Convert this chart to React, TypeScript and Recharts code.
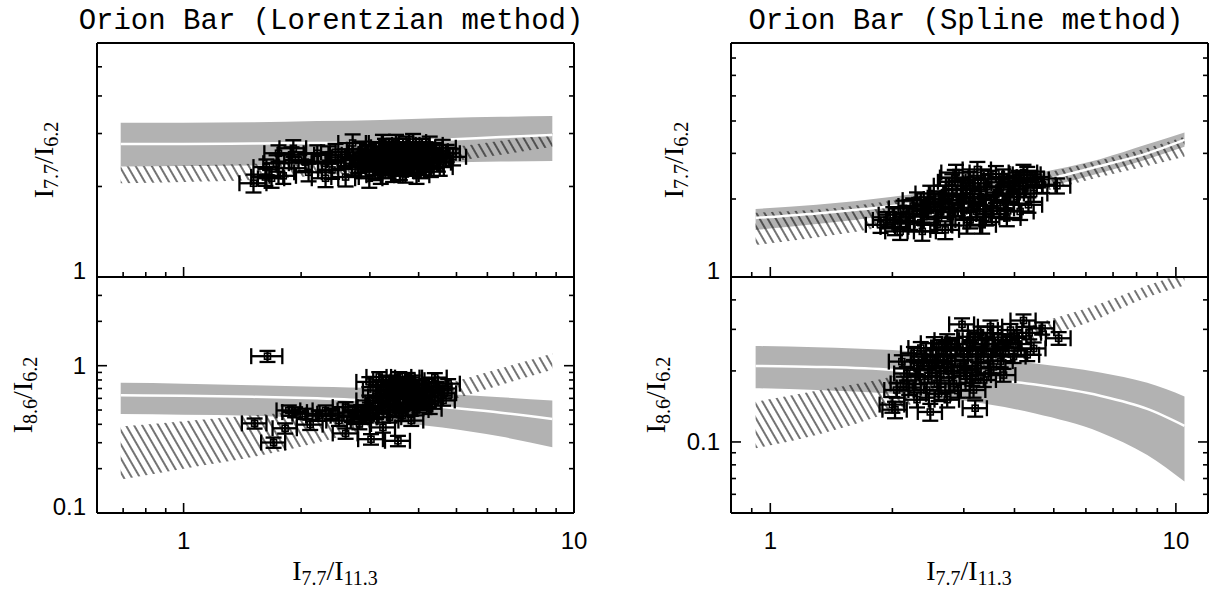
import React from "react";
import { ComposedChart, Area, Line, Scatter, ErrorBar, XAxis, YAxis } from "recharts";

const leftBandX = [0.69, 1.0, 1.5, 2.2, 3.2, 4.6, 6.5, 8.8];
const rightBandX = [0.92, 1.3, 2.0, 3.0, 4.5, 6.5, 8.5, 10.5];

// top-left: I7.7/I6.2, Lorentzian
const tlGrayHi = [3.26, 3.26, 3.27, 3.3, 3.33, 3.38, 3.41, 3.43];
const tlGrayLo = [2.33, 2.34, 2.35, 2.37, 2.38, 2.4, 2.42, 2.43];
const tlWhite = [2.77, 2.77, 2.78, 2.79, 2.81, 2.86, 2.92, 2.97];
const tlHatchHi = [2.33, 2.35, 2.38, 2.45, 2.55, 2.68, 2.84, 3.01];
const tlHatchLo = [2.05, 2.07, 2.1, 2.17, 2.27, 2.4, 2.55, 2.71];

// bottom-left: I8.6/I6.2, Lorentzian
const blGrayHi = [0.765, 0.755, 0.737, 0.72, 0.7, 0.645, 0.61, 0.58];
const blGrayLo = [0.47, 0.465, 0.458, 0.44, 0.42, 0.38, 0.33, 0.28];
const blWhite = [0.63, 0.625, 0.615, 0.6, 0.575, 0.525, 0.48, 0.435];
const blHatchHi = [0.386, 0.42, 0.46, 0.5, 0.58, 0.74, 0.96, 1.21];
const blHatchLo = [0.169, 0.2, 0.24, 0.3, 0.4, 0.56, 0.74, 0.94];

// top-right: I7.7/I6.2, Spline
const trGrayHi = [1.83, 1.9, 2.04, 2.24, 2.51, 2.85, 3.25, 3.61];
const trGrayLo = [1.52, 1.6, 1.735, 1.92, 2.17, 2.52, 2.85, 3.18];
const trWhite = [1.69, 1.76, 1.88, 2.05, 2.32, 2.68, 3.0, 3.38];
const trHatchHi = [1.77, 1.82, 1.97, 2.17, 2.47, 2.82, 3.15, 3.48];
const trHatchLo = [1.33, 1.42, 1.58, 1.8, 2.1, 2.43, 2.68, 2.91];

// bottom-right: I8.6/I6.2, Spline
const brGrayHi = [0.255, 0.252, 0.245, 0.232, 0.215, 0.197, 0.178, 0.156];
const brGrayLo = [0.169, 0.166, 0.16, 0.15, 0.132, 0.11, 0.088, 0.068];
const brWhite = [0.21, 0.208, 0.202, 0.188, 0.175, 0.157, 0.138, 0.117];
const brHatchHi = [0.148, 0.165, 0.19, 0.245, 0.315, 0.385, 0.46, 0.52];
const brHatchLo = [0.094, 0.107, 0.135, 0.18, 0.265, 0.335, 0.41, 0.46];

// measured points: [x, y, xErr, yErr]
type Pt = [number, number, number, number];

const tlPoints: Pt[] = [
  [1.51, 2.05, 0.12, 0.14], [1.62, 2.15, 0.13, 0.14], [1.68, 2.13, 0.13, 0.15],
  [1.8, 2.17, 0.14, 0.13], [1.63, 2.32, 0.12, 0.14], [1.73, 2.39, 0.13, 0.15],
  [1.75, 2.58, 0.14, 0.16], [1.91, 2.68, 0.15, 0.17], [1.89, 2.55, 0.15, 0.15],
  [1.97, 2.45, 0.16, 0.15], [2.05, 2.41, 0.16, 0.16], [2.09, 2.23, 0.17, 0.15],
  [2.2, 2.58, 0.17, 0.16], [2.31, 2.39, 0.18, 0.16], [2.35, 2.55, 0.19, 0.17],
  [2.4, 2.27, 0.19, 0.15], [2.31, 2.13, 0.18, 0.14], [2.53, 2.45, 0.2, 0.16],
  [2.6, 2.15, 0.21, 0.15], [2.71, 2.79, 0.22, 0.19], [2.81, 2.51, 0.22, 0.16],
  [2.93, 2.32, 0.23, 0.16], [2.99, 2.13, 0.24, 0.15], [3.11, 2.64, 0.25, 0.17],
  [3.24, 2.79, 0.26, 0.18], [3.3, 2.41, 0.26, 0.16], [3.44, 2.22, 0.27, 0.15],
  [3.5, 2.79, 0.28, 0.18], [3.64, 2.58, 0.29, 0.17], [3.8, 2.32, 0.3, 0.15],
  [3.87, 2.81, 0.31, 0.18], [3.95, 2.18, 0.31, 0.14], [4.1, 2.64, 0.33, 0.17],
  [4.19, 2.39, 0.33, 0.16], [4.27, 2.75, 0.34, 0.18], [4.44, 2.49, 0.35, 0.16],
  [4.53, 2.32, 0.36, 0.15], [4.72, 2.58, 0.38, 0.17], [4.61, 2.69, 0.37, 0.17],
  [4.9, 2.51, 0.39, 0.16], [3.24, 2.45, 0.26, 0.16], [3.44, 2.55, 0.27, 0.17],
  [3.75, 2.45, 0.3, 0.16], [3.1, 2.25, 0.25, 0.15], [3.6, 2.32, 0.29, 0.15],
  [4.0, 2.45, 0.32, 0.16], [4.3, 2.3, 0.34, 0.15], [3.0, 2.4, 0.24, 0.16],
  [3.35, 2.65, 0.27, 0.17], [3.9, 2.6, 0.31, 0.17], [2.85, 2.65, 0.23, 0.17],
  [3.5, 2.38, 0.28, 0.16], [4.15, 2.55, 0.33, 0.17], [2.7, 2.33, 0.22, 0.15],
  [2.6, 2.5, 0.21, 0.16], [2.45, 2.6, 0.2, 0.17], [3.2, 2.18, 0.26, 0.14],
  [3.7, 2.2, 0.3, 0.14], [4.4, 2.62, 0.35, 0.17], [3.05, 2.55, 0.24, 0.17],
  [3.65, 2.7, 0.29, 0.18], [4.05, 2.28, 0.32, 0.15], [2.9, 2.45, 0.23, 0.16],
  [3.4, 2.35, 0.27, 0.15], [3.15, 2.5, 0.25, 0.16], [3.3, 2.58, 0.26, 0.17],
  [3.45, 2.7, 0.28, 0.18], [3.55, 2.5, 0.28, 0.16], [3.62, 2.4, 0.29, 0.16],
  [3.78, 2.62, 0.3, 0.17], [3.85, 2.38, 0.31, 0.16], [3.92, 2.5, 0.31, 0.16],
  [4.08, 2.7, 0.33, 0.18], [4.2, 2.48, 0.34, 0.16], [4.35, 2.45, 0.35, 0.16],
  [4.25, 2.6, 0.34, 0.17], [3.35, 2.28, 0.27, 0.15], [3.55, 2.62, 0.28, 0.17],
  [3.72, 2.75, 0.3, 0.18], [4.0, 2.35, 0.32, 0.15], [3.2, 2.35, 0.26, 0.15],
  [2.95, 2.58, 0.24, 0.17], [3.48, 2.45, 0.28, 0.16], [3.82, 2.53, 0.31, 0.16],
  [4.12, 2.4, 0.33, 0.16], [3.28, 2.7, 0.26, 0.18], [3.68, 2.52, 0.29, 0.16],
  [2.8, 2.38, 0.22, 0.16], [4.48, 2.4, 0.36, 0.16], [3.58, 2.25, 0.29, 0.15],
];

const blPoints: Pt[] = [
  [1.64, 1.16, 0.15, 0.1], [1.52, 0.406, 0.11, 0.032], [1.7, 0.301, 0.12, 0.024],
  [1.82, 0.376, 0.13, 0.03], [2.11, 0.398, 0.16, 0.032], [2.6, 0.347, 0.19, 0.028],
  [3.02, 0.317, 0.22, 0.026], [3.54, 0.309, 0.26, 0.025], [3.83, 0.424, 0.28, 0.034],
  [4.4, 0.83, 0.32, 0.06], [4.76, 0.755, 0.34, 0.055], [4.27, 0.51, 0.31, 0.04],
  [1.86, 0.497, 0.13, 0.04], [1.93, 0.484, 0.14, 0.038], [2.05, 0.472, 0.15, 0.038],
  [2.22, 0.458, 0.16, 0.036], [2.4, 0.472, 0.17, 0.038], [2.5, 0.424, 0.18, 0.034],
  [2.76, 0.497, 0.2, 0.04], [2.82, 0.402, 0.2, 0.032], [2.99, 0.581, 0.22, 0.046],
  [3.11, 0.472, 0.23, 0.038], [3.24, 0.381, 0.24, 0.03], [2.99, 0.776, 0.22, 0.06],
  [3.3, 0.797, 0.24, 0.06], [3.57, 0.839, 0.26, 0.065], [3.71, 0.717, 0.27, 0.055],
  [3.44, 0.645, 0.25, 0.05], [3.86, 0.613, 0.28, 0.048], [4.02, 0.68, 0.29, 0.052],
  [4.19, 0.613, 0.3, 0.048], [4.53, 0.68, 0.33, 0.052], [4.62, 0.581, 0.33, 0.046],
  [3.24, 0.523, 0.24, 0.042], [3.5, 0.497, 0.25, 0.04], [3.71, 0.551, 0.27, 0.044],
  [2.93, 0.447, 0.21, 0.036], [3.37, 0.447, 0.24, 0.036], [3.64, 0.458, 0.26, 0.036],
  [2.6, 0.523, 0.19, 0.042], [2.31, 0.497, 0.17, 0.04], [3.11, 0.68, 0.23, 0.052],
  [4.02, 0.523, 0.29, 0.042], [3.86, 0.797, 0.28, 0.06], [3.17, 0.839, 0.23, 0.065],
  [4.19, 0.755, 0.3, 0.058], [3.4, 0.72, 0.25, 0.055], [3.6, 0.65, 0.26, 0.05],
  [3.9, 0.7, 0.28, 0.054], [3.3, 0.58, 0.24, 0.046], [3.7, 0.6, 0.27, 0.048],
  [4.1, 0.58, 0.3, 0.046], [3.5, 0.76, 0.25, 0.058], [3.0, 0.52, 0.22, 0.042],
  [2.7, 0.45, 0.2, 0.036], [3.95, 0.5, 0.29, 0.04], [3.2, 0.62, 0.23, 0.048],
  [3.35, 0.68, 0.24, 0.052], [3.5, 0.6, 0.25, 0.046], [3.65, 0.78, 0.26, 0.06],
  [3.8, 0.66, 0.28, 0.05], [3.95, 0.74, 0.29, 0.056], [4.05, 0.62, 0.29, 0.048],
  [4.3, 0.66, 0.31, 0.05], [4.45, 0.72, 0.32, 0.055], [3.45, 0.55, 0.25, 0.044],
  [3.6, 0.52, 0.26, 0.042], [3.25, 0.74, 0.24, 0.056], [3.75, 0.83, 0.27, 0.062],
  [3.15, 0.56, 0.23, 0.044], [2.85, 0.5, 0.21, 0.04], [2.95, 0.46, 0.21, 0.037],
  [3.55, 0.7, 0.26, 0.054], [4.25, 0.57, 0.31, 0.045], [3.85, 0.56, 0.28, 0.045],
  [4.65, 0.65, 0.34, 0.05],
];

const trPoints: Pt[] = [
  [2.87, 2.53, 0.23, 0.18], [3.24, 2.6, 0.26, 0.18], [2.81, 2.33, 0.22, 0.16],
  [3.75, 2.43, 0.3, 0.17], [4.21, 2.53, 0.34, 0.18], [4.38, 2.4, 0.35, 0.17],
  [5.09, 2.25, 0.4, 0.15], [4.68, 2.27, 0.37, 0.16], [4.33, 1.9, 0.35, 0.13],
  [4.13, 1.79, 0.33, 0.13], [3.83, 1.69, 0.31, 0.12], [3.33, 1.59, 0.27, 0.12],
  [2.7, 1.52, 0.22, 0.12], [2.37, 1.5, 0.19, 0.12], [2.03, 1.56, 0.16, 0.11],
  [2.01, 1.74, 0.16, 0.12], [2.13, 1.84, 0.17, 0.13], [2.3, 1.98, 0.18, 0.14],
  [2.48, 2.1, 0.2, 0.15], [2.67, 2.1, 0.21, 0.15], [3.05, 2.17, 0.24, 0.15],
  [2.94, 1.93, 0.24, 0.14], [2.63, 1.82, 0.21, 0.13], [2.39, 1.71, 0.19, 0.12],
  [2.21, 1.64, 0.18, 0.12], [3.23, 1.79, 0.26, 0.13], [3.55, 1.98, 0.28, 0.14],
  [3.91, 2.1, 0.31, 0.15], [3.42, 2.23, 0.27, 0.16], [3.98, 2.3, 0.32, 0.16],
  [3.11, 2.37, 0.25, 0.17], [2.78, 1.71, 0.22, 0.12], [3.11, 1.66, 0.25, 0.12],
  [3.69, 1.84, 0.3, 0.13], [1.94, 1.66, 0.15, 0.12], [1.87, 1.59, 0.15, 0.11],
  [2.43, 1.9, 0.19, 0.13], [2.09, 1.5, 0.17, 0.11], [2.58, 1.59, 0.21, 0.11],
  [3.3, 2.04, 0.26, 0.14], [2.88, 2.04, 0.23, 0.14], [4.46, 2.1, 0.36, 0.15],
  [4.06, 2.04, 0.32, 0.14], [4.3, 2.49, 0.34, 0.17], [2.55, 1.95, 0.2, 0.14],
  [3.5, 1.75, 0.28, 0.12], [2.2, 1.75, 0.18, 0.12], [3.0, 1.8, 0.24, 0.13],
  [3.8, 1.95, 0.3, 0.14], [2.75, 2.25, 0.22, 0.16], [2.45, 1.8, 0.2, 0.13],
  [2.6, 1.7, 0.21, 0.12], [2.75, 1.92, 0.22, 0.14], [2.9, 1.85, 0.23, 0.13],
  [3.15, 1.95, 0.25, 0.14], [3.35, 1.88, 0.27, 0.13], [3.6, 2.08, 0.29, 0.15],
  [3.7, 2.22, 0.3, 0.16], [3.95, 2.18, 0.32, 0.15], [4.2, 2.25, 0.34, 0.16],
  [4.1, 2.4, 0.33, 0.17], [3.45, 2.4, 0.28, 0.17], [3.25, 2.3, 0.26, 0.16],
  [2.95, 2.25, 0.24, 0.16], [2.6, 2.0, 0.21, 0.14], [2.35, 1.62, 0.19, 0.12],
  [2.25, 1.88, 0.18, 0.13], [3.05, 1.58, 0.24, 0.11], [3.4, 1.7, 0.27, 0.12],
  [3.85, 1.8, 0.31, 0.13], [4.5, 2.38, 0.36, 0.17], [2.85, 2.42, 0.23, 0.17],
  [3.6, 2.5, 0.29, 0.18], [2.1, 1.65, 0.17, 0.12],
];

const brPoints: Pt[] = [
  [2.97, 0.315, 0.21, 0.019], [4.21, 0.327, 0.3, 0.02], [4.68, 0.303, 0.33, 0.018],
  [5.14, 0.275, 0.36, 0.017], [4.46, 0.249, 0.31, 0.015], [4.3, 0.234, 0.3, 0.014],
  [3.76, 0.192, 0.26, 0.012], [3.2, 0.139, 0.22, 0.011], [2.48, 0.134, 0.17, 0.011],
  [2.03, 0.137, 0.14, 0.011], [2.0, 0.144, 0.14, 0.011], [2.11, 0.219, 0.15, 0.014],
  [2.26, 0.2375, 0.16, 0.015], [2.53, 0.262, 0.18, 0.016], [2.73, 0.27, 0.19, 0.016],
  [3.11, 0.279, 0.22, 0.017], [3.49, 0.289, 0.24, 0.018], [3.83, 0.27, 0.27, 0.016],
  [3.3, 0.23, 0.23, 0.014], [2.94, 0.208, 0.21, 0.013], [2.63, 0.195, 0.18, 0.013],
  [2.34, 0.189, 0.16, 0.013], [2.13, 0.177, 0.15, 0.012], [2.05, 0.166, 0.14, 0.012],
  [2.43, 0.166, 0.17, 0.012], [2.83, 0.177, 0.2, 0.012], [3.36, 0.183, 0.24, 0.012],
  [3.55, 0.208, 0.25, 0.013], [3.98, 0.23, 0.28, 0.014], [2.94, 0.245, 0.21, 0.015],
  [2.67, 0.23, 0.19, 0.014], [2.39, 0.216, 0.17, 0.014], [3.17, 0.166, 0.22, 0.012],
  [2.73, 0.151, 0.19, 0.011], [2.3, 0.151, 0.16, 0.011], [3.49, 0.308, 0.24, 0.019],
  [3.91, 0.298, 0.27, 0.018], [2.17, 0.195, 0.15, 0.013], [2.58, 0.177, 0.18, 0.012],
  [3.62, 0.245, 0.25, 0.015], [3.1, 0.25, 0.22, 0.015], [2.8, 0.22, 0.2, 0.013],
  [3.4, 0.26, 0.24, 0.016], [2.5, 0.21, 0.18, 0.013], [3.7, 0.22, 0.26, 0.013],
  [3.05, 0.19, 0.21, 0.012], [2.6, 0.245, 0.18, 0.015], [3.25, 0.205, 0.23, 0.013],
  [2.4, 0.23, 0.17, 0.014], [2.55, 0.22, 0.18, 0.014], [2.7, 0.25, 0.19, 0.015],
  [2.85, 0.26, 0.2, 0.016], [3.0, 0.235, 0.21, 0.014], [3.2, 0.27, 0.22, 0.016],
  [3.35, 0.245, 0.24, 0.015], [3.5, 0.235, 0.25, 0.014], [3.65, 0.27, 0.26, 0.016],
  [3.8, 0.25, 0.27, 0.015], [4.0, 0.28, 0.28, 0.017], [4.1, 0.26, 0.29, 0.016],
  [2.3, 0.205, 0.16, 0.013], [2.45, 0.19, 0.17, 0.012], [2.75, 0.2, 0.19, 0.013],
  [3.0, 0.21, 0.21, 0.013], [3.15, 0.185, 0.22, 0.012], [3.45, 0.195, 0.24, 0.012],
  [2.2, 0.17, 0.15, 0.012], [2.6, 0.16, 0.18, 0.011], [2.9, 0.165, 0.2, 0.011],
  [3.3, 0.29, 0.23, 0.018], [4.35, 0.29, 0.3, 0.018], [2.35, 0.25, 0.16, 0.015],
];

// axis ticks
const leftXTicks = [0.7, 0.8, 0.9, 1, 2, 3, 4, 5, 6, 7, 8, 9, 10];
const rightXTicks = [0.9, 1, 2, 3, 4, 5, 6, 7, 8, 9, 10];
const tlYTicks = [1, 2, 3, 4, 5];
const blYTicks = [0.1, 0.2, 0.3, 0.4, 0.5, 0.6, 0.7, 0.8, 0.9, 1, 2, 3];
const trYTicks = [1, 2, 3, 4, 5, 6, 7];
const brYTicks = [0.06, 0.07, 0.08, 0.09, 0.1, 0.2, 0.3, 0.4];

const PLOT_W = 477;
const ML = 62;
const MR = 24;
const MT = 8;
const MB = 46;

const isMajor = (v: number) => {
  const l = Math.log10(v);
  return Math.abs(l - Math.round(l)) < 1e-6;
};

const tickFont = { fontFamily: "Liberation Sans", fontSize: 24, fill: "#000" };

function makeTick(side: string, labels: number[], minVal: number) {
  return (props: any) => {
    const { x, y, payload } = props;
    const v = payload.value;
    const len = isMajor(v) ? 10 : 5;
    let x2 = x;
    let y2 = y;
    if (side === "bottom") y2 = y - len;
    else if (side === "top") y2 = y + len;
    else if (side === "left") x2 = x + len;
    else x2 = x - len;
    const show = labels.includes(v);
    return (
      <g>
        <line x1={x} y1={y} x2={x2} y2={y2} stroke="#000" strokeWidth={1.6} />
        {show && side === "bottom" && (
          <text x={x} y={y + 36} textAnchor="middle" {...tickFont}>
            {String(v)}
          </text>
        )}
        {show && side === "left" && (
          <text x={x - 11} y={v === minVal ? y + 2 : y + 8} textAnchor="end" {...tickFont}>
            {String(v)}
          </text>
        )}
      </g>
    );
  };
}

const Marker = (p: any) => (
  <g>
    <rect x={p.cx - 3} y={p.cy - 3} width={6} height={6} fill="none" stroke="#000" strokeWidth={1.6} />
    <circle cx={p.cx} cy={p.cy} r={1.5} fill="#000" />
  </g>
);

interface PanelProps {
  id: string;
  left: number;
  top: number;
  plotH: number;
  xDomain: [number, number];
  yDomain: [number, number];
  xTicks: number[];
  yTicks: number[];
  xLabels: number[];
  yLabels: number[];
  bandX: number[];
  grayLo: number[];
  grayHi: number[];
  white: number[];
  hatchLo: number[];
  hatchHi: number[];
  points: Pt[];
}

function Panel(p: PanelProps) {
  const W = ML + 1 + PLOT_W + 1 + MR;
  const H = MT + 1 + p.plotH + 1 + MB;
  const rows = p.bandX.map((x, i) => ({
    x,
    gray: [p.grayLo[i], p.grayHi[i]],
    white: p.white[i],
    hatch: [p.hatchLo[i], p.hatchHi[i]],
  }));
  const pts = p.points.map(([x, y, ex, ey]) => ({ x, y, ex, ey }));
  const axisLine = { stroke: "#000", strokeWidth: 2 };
  const yMin = p.yDomain[0];
  return (
    <div style={{ position: "absolute", left: p.left - ML - 1, top: p.top - MT - 1 }}>
      <ComposedChart width={W} height={H} data={rows} margin={{ top: MT, right: MR, bottom: MB, left: ML }}>
        <defs>
          <pattern
            id={`hatch-${p.id}`}
            width={7}
            height={7}
            patternUnits="userSpaceOnUse"
            patternTransform="rotate(-30)"
          >
            <line x1={1} y1={0} x2={1} y2={7} stroke="#000" strokeWidth={1.1} />
          </pattern>
        </defs>
        <XAxis
          xAxisId="b"
          dataKey="x"
          type="number"
          scale="log"
          domain={p.xDomain}
          allowDataOverflow
          ticks={p.xTicks}
          interval={0}
          height={1}
          tickSize={0}
          tickMargin={0}
          tickLine={false}
          axisLine={axisLine}
          tick={makeTick("bottom", p.xLabels, 0)}
        />
        <XAxis
          xAxisId="t"
          orientation="top"
          type="number"
          scale="log"
          domain={p.xDomain}
          allowDataOverflow
          ticks={p.xTicks}
          interval={0}
          height={1}
          tickSize={0}
          tickMargin={0}
          tickLine={false}
          axisLine={axisLine}
          tick={makeTick("top", [], 0)}
        />
        <YAxis
          yAxisId="l"
          type="number"
          scale="log"
          domain={p.yDomain}
          allowDataOverflow
          ticks={p.yTicks}
          interval={0}
          width={1}
          tickSize={0}
          tickMargin={0}
          tickLine={false}
          axisLine={axisLine}
          tick={makeTick("left", p.yLabels, yMin)}
        />
        <YAxis
          yAxisId="r"
          orientation="right"
          type="number"
          scale="log"
          domain={p.yDomain}
          allowDataOverflow
          ticks={p.yTicks}
          interval={0}
          width={1}
          tickSize={0}
          tickMargin={0}
          tickLine={false}
          axisLine={axisLine}
          tick={makeTick("right", [], yMin)}
        />
        <Area
          xAxisId="b"
          yAxisId="l"
          dataKey="gray"
          type="monotone"
          stroke="none"
          fill="#b2b2b2"
          fillOpacity={1}
          dot={false}
          activeDot={false}
          isAnimationActive={false}
        />
        <Line
          xAxisId="b"
          yAxisId="l"
          dataKey="white"
          type="monotone"
          stroke="#fff"
          strokeWidth={2.5}
          dot={false}
          activeDot={false}
          isAnimationActive={false}
        />
        <Area
          xAxisId="b"
          yAxisId="l"
          dataKey="hatch"
          type="monotone"
          stroke="none"
          fill={`url(#hatch-${p.id})`}
          fillOpacity={1}
          dot={false}
          activeDot={false}
          isAnimationActive={false}
        />
        <Scatter
          xAxisId="b"
          yAxisId="l"
          data={pts}
          dataKey="y"
          shape={Marker}
          isAnimationActive={false}
        >
          <ErrorBar dataKey="ex" direction="x" width={8} stroke="#000" strokeWidth={2.3} />
          <ErrorBar dataKey="ey" direction="y" width={8} stroke="#000" strokeWidth={2.3} />
        </Scatter>
      </ComposedChart>
    </div>
  );
}

const serif = { fontFamily: "Liberation Serif", fontSize: 28, fill: "#000" };

function Ratio({ x, y, a, b, rotate }: { x: number; y: number; a: string; b: string; rotate?: boolean }) {
  return (
    <text
      x={x}
      y={rotate ? y + 9 : y}
      textAnchor="middle"
      transform={rotate ? `rotate(-90 ${x} ${y})` : undefined}
      {...serif}
    >
      I
      <tspan fontSize={20} dy={5}>{a}</tspan>
      <tspan dy={-5}>/I</tspan>
      <tspan fontSize={20} dy={5}>{b}</tspan>
    </text>
  );
}

export default function App() {
  return (
    <div
      style={{
        position: "absolute",
        left: 0,
        top: 0,
        width: 1209,
        height: 594,
        overflow: "hidden",
        background: "#fff",
      }}
    >
      <Panel
        id="tl"
        left={97}
        top={43}
        plotH={234}
        xDomain={[0.6, 10]}
        yDomain={[1, 6]}
        xTicks={leftXTicks}
        yTicks={tlYTicks}
        xLabels={[]}
        yLabels={[1]}
        bandX={leftBandX}
        grayLo={tlGrayLo}
        grayHi={tlGrayHi}
        white={tlWhite}
        hatchLo={tlHatchLo}
        hatchHi={tlHatchHi}
        points={tlPoints}
      />
      <Panel
        id="bl"
        left={97}
        top={277}
        plotH={236}
        xDomain={[0.6, 10]}
        yDomain={[0.1, 4]}
        xTicks={leftXTicks}
        yTicks={blYTicks}
        xLabels={[1, 10]}
        yLabels={[0.1, 1]}
        bandX={leftBandX}
        grayLo={blGrayLo}
        grayHi={blGrayHi}
        white={blWhite}
        hatchLo={blHatchLo}
        hatchHi={blHatchHi}
        points={blPoints}
      />
      <Panel
        id="tr"
        left={731}
        top={43}
        plotH={234}
        xDomain={[0.8, 12]}
        yDomain={[1, 8]}
        xTicks={rightXTicks}
        yTicks={trYTicks}
        xLabels={[]}
        yLabels={[1]}
        bandX={rightBandX}
        grayLo={trGrayLo}
        grayHi={trGrayHi}
        white={trWhite}
        hatchLo={trHatchLo}
        hatchHi={trHatchHi}
        points={trPoints}
      />
      <Panel
        id="br"
        left={731}
        top={277}
        plotH={236}
        xDomain={[0.8, 12]}
        yDomain={[0.05, 0.5]}
        xTicks={rightXTicks}
        yTicks={brYTicks}
        xLabels={[1, 10]}
        yLabels={[0.1]}
        bandX={rightBandX}
        grayLo={brGrayLo}
        grayHi={brGrayHi}
        white={brWhite}
        hatchLo={brHatchLo}
        hatchHi={brHatchHi}
        points={brPoints}
      />
      <svg width={1209} height={594} style={{ position: "absolute", left: 0, top: 0 }}>
        <text x={331} y={29} textAnchor="middle" fontFamily="Liberation Mono" fontSize={29} fill="#000">
          Orion Bar (Lorentzian method)
        </text>
        <text x={966} y={29} textAnchor="middle" fontFamily="Liberation Mono" fontSize={29} fill="#000">
          Orion Bar (Spline method)
        </text>
        <Ratio x={335} y={580} a="7.7" b="11.3" />
        <Ratio x={969} y={580} a="7.7" b="11.3" />
        <Ratio x={44} y={160} a="7.7" b="6.2" rotate />
        <Ratio x={23} y={395} a="8.6" b="6.2" rotate />
        <Ratio x={674} y={160} a="7.7" b="6.2" rotate />
        <Ratio x={656} y={395} a="8.6" b="6.2" rotate />
      </svg>
    </div>
  );
}
